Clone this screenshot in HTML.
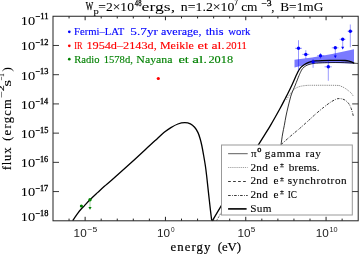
<!DOCTYPE html>
<html><head><meta charset="utf-8"><style>
html,body{margin:0;padding:0;background:#fff;}
body{width:359px;height:254px;overflow:hidden;}
svg{display:block;will-change:transform;}
</style></head><body>
<svg width="359" height="254" viewBox="0 0 359 254">
<rect width="359" height="254" fill="#fff"/>
<polygon points="294.5,59.8 312,57.4 332,54.0 354,49.2 354,63.5 332,63.0 312,63.3 294.5,67.5" fill="#0000ff" fill-opacity="0.52"/>
<path d="M72.70,220.60 C73.12,219.98 74.33,218.15 75.20,216.90 C76.07,215.65 76.93,214.37 77.90,213.10 C78.87,211.83 79.90,210.55 81.00,209.30 C82.10,208.05 82.95,207.23 84.50,205.60 C86.05,203.97 88.08,201.70 90.30,199.50 C92.52,197.30 95.45,194.60 97.80,192.40 C100.15,190.20 102.07,188.37 104.40,186.30 C106.73,184.23 107.27,184.00 111.80,180.00 C116.33,176.00 125.23,168.08 131.60,162.30 C137.97,156.52 145.77,149.20 150.00,145.30 C154.23,141.40 154.68,141.02 157.00,138.90 C159.32,136.78 161.58,134.48 163.90,132.60 C166.22,130.72 168.57,129.03 170.90,127.60 C173.23,126.17 175.58,124.82 177.90,124.00 C180.22,123.18 182.72,122.72 184.80,122.70 C186.88,122.68 188.77,123.13 190.40,123.90 C192.03,124.67 193.33,125.85 194.60,127.30 C195.87,128.75 197.07,130.65 198.00,132.60 C198.93,134.55 199.57,136.85 200.20,139.00 C200.83,141.15 201.25,142.90 201.80,145.50 C202.35,148.10 202.90,151.18 203.50,154.60 C204.10,158.02 204.87,162.40 205.40,166.00 C205.93,169.60 206.18,171.72 206.70,176.20 C207.22,180.68 207.88,187.28 208.50,192.90 C209.12,198.52 209.87,205.28 210.40,209.90 C210.93,214.52 211.48,218.82 211.70,220.60" fill="none" stroke="#000" stroke-width="1.3" stroke-linejoin="round"/>
<path d="M281.00,144.80 C281.27,143.00 282.05,137.23 282.60,134.00 C283.15,130.77 283.73,128.40 284.30,125.40 C284.87,122.40 285.42,118.90 286.00,116.00 C286.58,113.10 287.17,110.67 287.80,108.00 C288.43,105.33 289.18,102.33 289.80,100.00 C290.42,97.67 290.75,96.10 291.50,94.00 C292.25,91.90 293.52,89.28 294.30,87.40 C295.08,85.52 295.42,84.67 296.20,82.70 C296.98,80.73 298.25,77.42 299.00,75.60 C299.75,73.78 300.12,72.97 300.70,71.80 C301.28,70.63 301.62,69.62 302.50,68.60 C303.38,67.58 304.75,66.43 306.00,65.70 C307.25,64.97 308.67,64.58 310.00,64.20 C311.33,63.82 312.33,63.62 314.00,63.40 C315.67,63.18 317.33,63.03 320.00,62.90 C322.67,62.77 326.67,62.67 330.00,62.60 C333.33,62.53 337.00,62.47 340.00,62.50 C343.00,62.53 345.67,62.68 348.00,62.80 C350.33,62.92 352.33,63.08 354.00,63.20 C355.67,63.32 357.33,63.45 358.00,63.50" fill="none" stroke="#000" stroke-width="0.8"/>
<path d="M286.50,99.80 C286.87,99.20 287.77,97.62 288.70,96.20 C289.63,94.78 291.15,92.50 292.10,91.30 C293.05,90.10 293.53,89.65 294.40,89.00 C295.27,88.35 296.20,87.87 297.30,87.40 C298.40,86.93 299.55,86.52 301.00,86.20 C302.45,85.88 304.17,85.65 306.00,85.50 C307.83,85.35 306.87,85.32 312.00,85.30 C317.13,85.28 331.97,85.23 336.80,85.40 C341.63,85.57 339.67,85.85 341.00,86.30 C342.33,86.75 343.42,87.25 344.80,88.10 C346.18,88.95 348.18,90.52 349.30,91.40 C350.42,92.28 350.85,92.63 351.50,93.40 C352.15,94.17 352.92,95.57 353.20,96.00" fill="none" stroke="#666" stroke-width="0.75" stroke-dasharray="1.2,0.9"/>
<path d="M281.30,144.40 C282.75,143.10 286.83,139.35 290.00,136.60 C293.17,133.85 296.97,130.80 300.30,127.90 C303.63,125.00 307.55,121.42 310.00,119.20 C312.45,116.98 312.90,116.43 315.00,114.60 C317.10,112.77 320.10,110.20 322.60,108.20 C325.10,106.20 327.77,104.10 330.00,102.60 C332.23,101.10 334.50,99.87 336.00,99.20 C337.50,98.53 338.00,98.65 339.00,98.60 C340.00,98.55 341.02,98.67 342.00,98.90 C342.98,99.13 343.98,99.45 344.90,100.00 C345.82,100.55 346.77,101.45 347.50,102.20 C348.23,102.95 348.68,103.45 349.30,104.50 C349.92,105.55 350.63,107.00 351.20,108.50 C351.77,110.00 352.32,112.08 352.70,113.50 C353.08,114.92 353.37,116.42 353.50,117.00" fill="none" stroke="#111" stroke-width="0.85" stroke-dasharray="2.6,1.3,0.8,1.3"/>
<path d="M216.60,220.60 C217.40,219.22 220.60,213.68 221.40,212.30" fill="none" stroke="#333" stroke-width="0.7" stroke-dasharray="2,1"/>
<path d="M212.30,220.80 C213.88,218.13 217.18,212.47 221.80,204.80 C226.42,197.13 233.85,184.88 240.00,174.80 C246.15,164.72 253.62,152.55 258.70,144.30 C263.78,136.05 266.90,131.35 270.50,125.30 C274.10,119.25 277.82,112.52 280.30,108.00 C282.78,103.48 284.18,100.53 285.40,98.20 C286.62,95.87 286.45,96.33 287.60,94.00 C288.75,91.67 290.80,87.43 292.30,84.20 C293.80,80.97 295.55,76.87 296.60,74.60 C297.65,72.33 297.85,71.85 298.60,70.60 C299.35,69.35 300.05,68.17 301.10,67.10 C302.15,66.03 303.63,64.98 304.90,64.20 C306.17,63.42 307.52,62.87 308.70,62.40 C309.88,61.93 310.78,61.65 312.00,61.40 C313.22,61.15 314.33,61.03 316.00,60.90 C317.67,60.77 319.67,60.68 322.00,60.60 C324.33,60.52 327.00,60.45 330.00,60.40 C333.00,60.35 337.50,60.28 340.00,60.30 C342.50,60.32 343.50,60.37 345.00,60.50 C346.50,60.63 347.83,60.83 349.00,61.10 C350.17,61.37 351.13,61.73 352.00,62.10 C352.87,62.47 353.83,63.10 354.20,63.30" fill="none" stroke="#000" stroke-width="1.3" stroke-linejoin="round"/>
<line x1="295.0" y1="48.3" x2="302.0" y2="48.3" stroke="#0000ff" stroke-opacity="0.5" stroke-width="0.8"/>
<line x1="298.5" y1="40.2" x2="298.5" y2="70.5" stroke="#0000ff" stroke-opacity="0.5" stroke-width="0.8"/>
<circle cx="298.5" cy="48.3" r="1.7" fill="#0000ff"/>
<line x1="302.3" y1="54.4" x2="309.3" y2="54.4" stroke="#0000ff" stroke-opacity="0.5" stroke-width="0.8"/>
<line x1="305.8" y1="50.2" x2="305.8" y2="58.8" stroke="#0000ff" stroke-opacity="0.5" stroke-width="0.8"/>
<circle cx="305.8" cy="54.4" r="1.7" fill="#0000ff"/>
<line x1="309.5" y1="61.9" x2="316.9" y2="61.9" stroke="#0000ff" stroke-opacity="0.5" stroke-width="0.8"/>
<line x1="313.1" y1="59.0" x2="313.1" y2="67.8" stroke="#0000ff" stroke-opacity="0.5" stroke-width="0.8"/>
<circle cx="313.1" cy="61.9" r="1.7" fill="#0000ff"/>
<line x1="317.0" y1="55.8" x2="324.3" y2="55.8" stroke="#0000ff" stroke-opacity="0.5" stroke-width="0.8"/>
<line x1="320.5" y1="53.0" x2="320.5" y2="58.6" stroke="#0000ff" stroke-opacity="0.5" stroke-width="0.8"/>
<circle cx="320.5" cy="55.8" r="1.7" fill="#0000ff"/>
<line x1="324.5" y1="66.8" x2="331.8" y2="66.8" stroke="#0000ff" stroke-opacity="0.5" stroke-width="0.8"/>
<line x1="328.3" y1="60.5" x2="328.3" y2="80.8" stroke="#0000ff" stroke-opacity="0.5" stroke-width="0.8"/>
<circle cx="328.3" cy="66.8" r="1.7" fill="#0000ff"/>
<line x1="331.8" y1="47.8" x2="338.5" y2="47.8" stroke="#0000ff" stroke-opacity="0.5" stroke-width="0.8"/>
<line x1="335.3" y1="47.8" x2="335.3" y2="56.3" stroke="#0000ff" stroke-opacity="0.5" stroke-width="0.8"/>
<polygon points="333.8,55.5 336.8,55.5 335.3,58.3" fill="#0000ff"/>
<circle cx="335.3" cy="47.8" r="1.7" fill="#0000ff"/>
<line x1="339.5" y1="39.3" x2="345.5" y2="39.3" stroke="#0000ff" stroke-opacity="0.5" stroke-width="0.8"/>
<line x1="342.7" y1="39.3" x2="342.7" y2="47.5" stroke="#0000ff" stroke-opacity="0.5" stroke-width="0.8"/>
<polygon points="341.2,46.7 344.2,46.7 342.7,49.5" fill="#0000ff"/>
<circle cx="342.7" cy="39.3" r="1.7" fill="#0000ff"/>
<line x1="347.6" y1="31.2" x2="352.9" y2="31.2" stroke="#0000ff" stroke-opacity="0.5" stroke-width="0.8"/>
<line x1="350.3" y1="24.5" x2="350.3" y2="47.3" stroke="#0000ff" stroke-opacity="0.5" stroke-width="0.8"/>
<circle cx="350.3" cy="31.2" r="1.7" fill="#0000ff"/>
<circle cx="158.3" cy="78.5" r="1.6" fill="#ff0000"/>
<circle cx="81.4" cy="206.0" r="1.6" fill="#008000"/>
<line x1="90.0" y1="199.8" x2="90.0" y2="207.5" stroke="#7fbf7f" stroke-width="0.7"/>
<polygon points="88.4,207.0 91.6,207.0 90.0,209.8" fill="#008000"/>
<circle cx="90.0" cy="199.8" r="1.7" fill="#008000"/>
<rect x="221.5" y="145.0" width="130.8" height="70.0" fill="#fff" stroke="#999" stroke-width="1"/>
<line x1="228.1" y1="153.7" x2="247.7" y2="153.7" stroke="#333" stroke-width="0.8"/>
<line x1="228.1" y1="167.5" x2="247.7" y2="167.5" stroke="#888" stroke-width="0.8" stroke-dasharray="1.2,0.9"/>
<line x1="228.1" y1="181.5" x2="246.0" y2="181.5" stroke="#222" stroke-width="0.9" stroke-dasharray="2.7,2.3"/>
<line x1="228.1" y1="195.5" x2="247.7" y2="195.5" stroke="#222" stroke-width="0.9" stroke-dasharray="2.6,1.3,0.8,1.3"/>
<line x1="228.1" y1="208.9" x2="246.6" y2="208.9" stroke="#000" stroke-width="1.6"/>
<text x="250.95" y="156.80" font-family="Liberation Serif" font-weight="normal" font-size="10" textLength="5.62" lengthAdjust="spacingAndGlyphs" fill="#000" stroke="#000" stroke-width="0.1" >π</text>
<text x="257.39" y="152.20" font-family="Liberation Serif" font-weight="normal" font-size="6.8" textLength="4.13" lengthAdjust="spacingAndGlyphs" fill="#000" stroke="#000" stroke-width="0.3" >0</text>
<text x="-0.43" y="0.00" font-family="Liberation Serif" font-weight="normal" font-size="10" textLength="31.91" lengthAdjust="spacing" fill="#000" stroke="#000" stroke-width="0.1"  transform="translate(265.20,156.60) scale(1.1200,1)">gamma</text>
<text x="-0.20" y="0.00" font-family="Liberation Serif" font-weight="normal" font-size="10" textLength="13.81" lengthAdjust="spacing" fill="#000" stroke="#000" stroke-width="0.1"  transform="translate(305.70,156.60) scale(1.1200,1)">ray</text>
<text x="-0.44" y="0.00" font-family="Liberation Serif" font-weight="normal" font-size="10" textLength="15.29" lengthAdjust="spacing" fill="#000" stroke="#000" stroke-width="0.1"  transform="translate(251.10,170.60) scale(1.1200,1)">2nd</text>
<text x="-0.39" y="0.00" font-family="Liberation Serif" font-weight="normal" font-size="10" textLength="5.02" lengthAdjust="spacing" fill="#000" stroke="#000" stroke-width="0.1"  transform="translate(273.90,170.60) scale(1.1200,1)">e</text>
<text x="280.01" y="167.00" font-family="Liberation Serif" font-weight="normal" font-size="6.0" textLength="3.89" lengthAdjust="spacingAndGlyphs" fill="#000" stroke="#000" stroke-width="0.25" >±</text>
<text x="-0.00" y="0.00" font-family="Liberation Serif" font-weight="normal" font-size="10" textLength="27.53" lengthAdjust="spacing" fill="#000" stroke="#000" stroke-width="0.1"  transform="translate(288.80,170.60) scale(1.1200,1)">brems.</text>
<text x="-0.44" y="0.00" font-family="Liberation Serif" font-weight="normal" font-size="10" textLength="15.29" lengthAdjust="spacing" fill="#000" stroke="#000" stroke-width="0.1"  transform="translate(251.10,184.30) scale(1.1200,1)">2nd</text>
<text x="-0.39" y="0.00" font-family="Liberation Serif" font-weight="normal" font-size="10" textLength="5.02" lengthAdjust="spacing" fill="#000" stroke="#000" stroke-width="0.1"  transform="translate(273.90,184.30) scale(1.1200,1)">e</text>
<text x="280.01" y="180.70" font-family="Liberation Serif" font-weight="normal" font-size="6.0" textLength="3.89" lengthAdjust="spacingAndGlyphs" fill="#000" stroke="#000" stroke-width="0.25" >±</text>
<text x="-0.41" y="0.00" font-family="Liberation Serif" font-weight="normal" font-size="10" textLength="52.70" lengthAdjust="spacing" fill="#000" stroke="#000" stroke-width="0.1"  transform="translate(288.10,184.30) scale(1.1200,1)">synchrotron</text>
<text x="-0.44" y="0.00" font-family="Liberation Serif" font-weight="normal" font-size="10" textLength="15.29" lengthAdjust="spacing" fill="#000" stroke="#000" stroke-width="0.1"  transform="translate(251.10,198.00) scale(1.1200,1)">2nd</text>
<text x="-0.39" y="0.00" font-family="Liberation Serif" font-weight="normal" font-size="10" textLength="5.02" lengthAdjust="spacing" fill="#000" stroke="#000" stroke-width="0.1"  transform="translate(273.90,198.00) scale(1.1200,1)">e</text>
<text x="280.01" y="194.40" font-family="Liberation Serif" font-weight="normal" font-size="6.0" textLength="3.89" lengthAdjust="spacingAndGlyphs" fill="#000" stroke="#000" stroke-width="0.25" >±</text>
<text x="-0.36" y="0.00" font-family="Liberation Serif" font-weight="normal" font-size="10" textLength="10.00" lengthAdjust="spacing" fill="#000" stroke="#000" stroke-width="0.1"  transform="translate(288.10,198.00) scale(0.9244,1)">IC</text>
<text x="-0.67" y="0.00" font-family="Liberation Serif" font-weight="normal" font-size="10" textLength="19.04" lengthAdjust="spacing" fill="#000" stroke="#000" stroke-width="0.1"  transform="translate(251.00,212.30) scale(1.1200,1)">Sum</text>
<circle cx="69.3" cy="31.8" r="1.35" fill="#0000ff"/>
<text x="74.10" y="34.60" font-family="Liberation Serif" font-weight="normal" font-size="10.2" textLength="50.27" lengthAdjust="spacingAndGlyphs" fill="#0000ff" stroke="#0000ff" stroke-width="0.12" >Fermi–LAT</text>
<text x="130.33" y="34.60" font-family="Liberation Serif" font-weight="normal" font-size="10.2" textLength="27.69" lengthAdjust="spacingAndGlyphs" fill="#0000ff" stroke="#0000ff" stroke-width="0.12" >5.7yr</text>
<text x="160.98" y="34.60" font-family="Liberation Serif" font-weight="normal" font-size="10.2" textLength="40.48" lengthAdjust="spacingAndGlyphs" fill="#0000ff" stroke="#0000ff" stroke-width="0.12" >average,</text>
<text x="205.68" y="34.60" font-family="Liberation Serif" font-weight="normal" font-size="10.2" textLength="17.76" lengthAdjust="spacingAndGlyphs" fill="#0000ff" stroke="#0000ff" stroke-width="0.12" >this</text>
<text x="228.29" y="34.60" font-family="Liberation Serif" font-weight="normal" font-size="10.2" textLength="22.21" lengthAdjust="spacingAndGlyphs" fill="#0000ff" stroke="#0000ff" stroke-width="0.12" >work</text>
<circle cx="69.3" cy="45.8" r="1.35" fill="#ff0000"/>
<text x="74.20" y="49.00" font-family="Liberation Serif" font-weight="normal" font-size="10.2" textLength="8.31" lengthAdjust="spacingAndGlyphs" fill="#ff0000" stroke="#ff0000" stroke-width="0.12" >IR</text>
<text x="86.42" y="49.00" font-family="Liberation Serif" font-weight="normal" font-size="10.2" textLength="70.35" lengthAdjust="spacingAndGlyphs" fill="#ff0000" stroke="#ff0000" stroke-width="0.12" >1954d–2143d,</text>
<text x="159.96" y="49.00" font-family="Liberation Serif" font-weight="normal" font-size="10.2" textLength="33.86" lengthAdjust="spacingAndGlyphs" fill="#ff0000" stroke="#ff0000" stroke-width="0.12" >Meikle</text>
<text x="197.53" y="49.00" font-family="Liberation Serif" font-weight="normal" font-size="10.2" textLength="10.45" lengthAdjust="spacingAndGlyphs" fill="#ff0000" stroke="#ff0000" stroke-width="0.12" >et</text>
<text x="211.42" y="49.00" font-family="Liberation Serif" font-weight="normal" font-size="10.2" textLength="13.28" lengthAdjust="spacingAndGlyphs" fill="#ff0000" stroke="#ff0000" stroke-width="0.12" >al.</text>
<text x="225.94" y="49.00" font-family="Liberation Serif" font-weight="normal" font-size="10.2" textLength="20.99" lengthAdjust="spacingAndGlyphs" fill="#ff0000" stroke="#ff0000" stroke-width="0.12" >2011</text>
<circle cx="69.3" cy="59.2" r="1.35" fill="#008000"/>
<text x="74.19" y="62.50" font-family="Liberation Serif" font-weight="normal" font-size="10.2" textLength="25.31" lengthAdjust="spacingAndGlyphs" fill="#008000" stroke="#008000" stroke-width="0.12" >Radio</text>
<text x="103.67" y="62.50" font-family="Liberation Serif" font-weight="normal" font-size="10.2" textLength="29.20" lengthAdjust="spacingAndGlyphs" fill="#008000" stroke="#008000" stroke-width="0.12" >1578d,</text>
<text x="136.36" y="62.50" font-family="Liberation Serif" font-weight="normal" font-size="10.2" textLength="36.10" lengthAdjust="spacingAndGlyphs" fill="#008000" stroke="#008000" stroke-width="0.12" >Nayana</text>
<text x="178.43" y="62.50" font-family="Liberation Serif" font-weight="normal" font-size="10.2" textLength="10.45" lengthAdjust="spacingAndGlyphs" fill="#008000" stroke="#008000" stroke-width="0.12" >et</text>
<text x="192.27" y="62.50" font-family="Liberation Serif" font-weight="normal" font-size="10.2" textLength="14.73" lengthAdjust="spacingAndGlyphs" fill="#008000" stroke="#008000" stroke-width="0.12" >al.</text>
<text x="208.46" y="62.50" font-family="Liberation Serif" font-weight="normal" font-size="10.2" textLength="24.61" lengthAdjust="spacingAndGlyphs" fill="#008000" stroke="#008000" stroke-width="0.12" >2018</text>
<rect x="53.0" y="16.25" width="305.2" height="204.55" fill="none" stroke="#222" stroke-width="1.0"/>
<line x1="69.06" y1="220.8" x2="69.06" y2="218.60000000000002" stroke="#222" stroke-width="1"/>
<line x1="69.06" y1="16.25" x2="69.06" y2="18.45" stroke="#222" stroke-width="1"/>
<line x1="85.13" y1="220.8" x2="85.13" y2="216.8" stroke="#222" stroke-width="1"/>
<line x1="85.13" y1="16.25" x2="85.13" y2="20.25" stroke="#222" stroke-width="1"/>
<line x1="101.19" y1="220.8" x2="101.19" y2="218.60000000000002" stroke="#222" stroke-width="1"/>
<line x1="101.19" y1="16.25" x2="101.19" y2="18.45" stroke="#222" stroke-width="1"/>
<line x1="117.25" y1="220.8" x2="117.25" y2="218.60000000000002" stroke="#222" stroke-width="1"/>
<line x1="117.25" y1="16.25" x2="117.25" y2="18.45" stroke="#222" stroke-width="1"/>
<line x1="133.31" y1="220.8" x2="133.31" y2="218.60000000000002" stroke="#222" stroke-width="1"/>
<line x1="133.31" y1="16.25" x2="133.31" y2="18.45" stroke="#222" stroke-width="1"/>
<line x1="149.38" y1="220.8" x2="149.38" y2="218.60000000000002" stroke="#222" stroke-width="1"/>
<line x1="149.38" y1="16.25" x2="149.38" y2="18.45" stroke="#222" stroke-width="1"/>
<line x1="165.44" y1="220.8" x2="165.44" y2="216.8" stroke="#222" stroke-width="1"/>
<line x1="165.44" y1="16.25" x2="165.44" y2="20.25" stroke="#222" stroke-width="1"/>
<line x1="181.50" y1="220.8" x2="181.50" y2="218.60000000000002" stroke="#222" stroke-width="1"/>
<line x1="181.50" y1="16.25" x2="181.50" y2="18.45" stroke="#222" stroke-width="1"/>
<line x1="197.57" y1="220.8" x2="197.57" y2="218.60000000000002" stroke="#222" stroke-width="1"/>
<line x1="197.57" y1="16.25" x2="197.57" y2="18.45" stroke="#222" stroke-width="1"/>
<line x1="213.63" y1="220.8" x2="213.63" y2="218.60000000000002" stroke="#222" stroke-width="1"/>
<line x1="213.63" y1="16.25" x2="213.63" y2="18.45" stroke="#222" stroke-width="1"/>
<line x1="229.69" y1="220.8" x2="229.69" y2="218.60000000000002" stroke="#222" stroke-width="1"/>
<line x1="229.69" y1="16.25" x2="229.69" y2="18.45" stroke="#222" stroke-width="1"/>
<line x1="245.76" y1="220.8" x2="245.76" y2="216.8" stroke="#222" stroke-width="1"/>
<line x1="245.76" y1="16.25" x2="245.76" y2="20.25" stroke="#222" stroke-width="1"/>
<line x1="261.82" y1="220.8" x2="261.82" y2="218.60000000000002" stroke="#222" stroke-width="1"/>
<line x1="261.82" y1="16.25" x2="261.82" y2="18.45" stroke="#222" stroke-width="1"/>
<line x1="277.88" y1="220.8" x2="277.88" y2="218.60000000000002" stroke="#222" stroke-width="1"/>
<line x1="277.88" y1="16.25" x2="277.88" y2="18.45" stroke="#222" stroke-width="1"/>
<line x1="293.94" y1="220.8" x2="293.94" y2="218.60000000000002" stroke="#222" stroke-width="1"/>
<line x1="293.94" y1="16.25" x2="293.94" y2="18.45" stroke="#222" stroke-width="1"/>
<line x1="310.01" y1="220.8" x2="310.01" y2="218.60000000000002" stroke="#222" stroke-width="1"/>
<line x1="310.01" y1="16.25" x2="310.01" y2="18.45" stroke="#222" stroke-width="1"/>
<line x1="326.07" y1="220.8" x2="326.07" y2="216.8" stroke="#222" stroke-width="1"/>
<line x1="326.07" y1="16.25" x2="326.07" y2="20.25" stroke="#222" stroke-width="1"/>
<line x1="342.13" y1="220.8" x2="342.13" y2="218.60000000000002" stroke="#222" stroke-width="1"/>
<line x1="342.13" y1="16.25" x2="342.13" y2="18.45" stroke="#222" stroke-width="1"/>
<line x1="53.0" y1="191.57" x2="59.0" y2="191.57" stroke="#222" stroke-width="0.9"/>
<line x1="358.2" y1="191.57" x2="352.2" y2="191.57" stroke="#222" stroke-width="0.9"/>
<line x1="53.0" y1="162.35" x2="59.0" y2="162.35" stroke="#222" stroke-width="0.9"/>
<line x1="358.2" y1="162.35" x2="352.2" y2="162.35" stroke="#222" stroke-width="0.9"/>
<line x1="53.0" y1="133.13" x2="59.0" y2="133.13" stroke="#222" stroke-width="0.9"/>
<line x1="358.2" y1="133.13" x2="352.2" y2="133.13" stroke="#222" stroke-width="0.9"/>
<line x1="53.0" y1="103.91" x2="59.0" y2="103.91" stroke="#222" stroke-width="0.9"/>
<line x1="358.2" y1="103.91" x2="352.2" y2="103.91" stroke="#222" stroke-width="0.9"/>
<line x1="53.0" y1="74.69" x2="59.0" y2="74.69" stroke="#222" stroke-width="0.9"/>
<line x1="358.2" y1="74.69" x2="352.2" y2="74.69" stroke="#222" stroke-width="0.9"/>
<line x1="53.0" y1="45.47" x2="59.0" y2="45.47" stroke="#222" stroke-width="0.9"/>
<line x1="358.2" y1="45.47" x2="352.2" y2="45.47" stroke="#222" stroke-width="0.9"/>
<text x="20.73" y="24.80" font-family="Liberation Serif" font-weight="normal" font-size="12.5" textLength="14.42" lengthAdjust="spacingAndGlyphs" fill="#000" stroke="#000" stroke-width="0.05" >10</text>
<text x="35.28" y="19.40" font-family="Liberation Serif" font-weight="normal" font-size="7.4" textLength="13.23" lengthAdjust="spacingAndGlyphs" fill="#000" stroke="#000" stroke-width="0.3" >−11</text>
<text x="20.73" y="50.20" font-family="Liberation Serif" font-weight="normal" font-size="12.5" textLength="14.42" lengthAdjust="spacingAndGlyphs" fill="#000" stroke="#000" stroke-width="0.05" >10</text>
<text x="35.28" y="44.80" font-family="Liberation Serif" font-weight="normal" font-size="7.4" textLength="13.19" lengthAdjust="spacingAndGlyphs" fill="#000" stroke="#000" stroke-width="0.3" >−12</text>
<text x="20.73" y="79.80" font-family="Liberation Serif" font-weight="normal" font-size="12.5" textLength="14.42" lengthAdjust="spacingAndGlyphs" fill="#000" stroke="#000" stroke-width="0.05" >10</text>
<text x="35.28" y="74.40" font-family="Liberation Serif" font-weight="normal" font-size="7.4" textLength="13.04" lengthAdjust="spacingAndGlyphs" fill="#000" stroke="#000" stroke-width="0.3" >−13</text>
<text x="20.73" y="108.90" font-family="Liberation Serif" font-weight="normal" font-size="12.5" textLength="14.42" lengthAdjust="spacingAndGlyphs" fill="#000" stroke="#000" stroke-width="0.05" >10</text>
<text x="35.29" y="103.50" font-family="Liberation Serif" font-weight="normal" font-size="7.4" textLength="12.84" lengthAdjust="spacingAndGlyphs" fill="#000" stroke="#000" stroke-width="0.3" >−14</text>
<text x="20.73" y="137.90" font-family="Liberation Serif" font-weight="normal" font-size="12.5" textLength="14.42" lengthAdjust="spacingAndGlyphs" fill="#000" stroke="#000" stroke-width="0.05" >10</text>
<text x="35.28" y="132.50" font-family="Liberation Serif" font-weight="normal" font-size="7.4" textLength="13.04" lengthAdjust="spacingAndGlyphs" fill="#000" stroke="#000" stroke-width="0.3" >−15</text>
<text x="20.73" y="167.10" font-family="Liberation Serif" font-weight="normal" font-size="12.5" textLength="14.42" lengthAdjust="spacingAndGlyphs" fill="#000" stroke="#000" stroke-width="0.05" >10</text>
<text x="35.29" y="161.70" font-family="Liberation Serif" font-weight="normal" font-size="7.4" textLength="12.96" lengthAdjust="spacingAndGlyphs" fill="#000" stroke="#000" stroke-width="0.3" >−16</text>
<text x="20.73" y="196.00" font-family="Liberation Serif" font-weight="normal" font-size="12.5" textLength="14.42" lengthAdjust="spacingAndGlyphs" fill="#000" stroke="#000" stroke-width="0.05" >10</text>
<text x="35.29" y="190.60" font-family="Liberation Serif" font-weight="normal" font-size="7.4" textLength="12.95" lengthAdjust="spacingAndGlyphs" fill="#000" stroke="#000" stroke-width="0.3" >−17</text>
<text x="20.73" y="221.20" font-family="Liberation Serif" font-weight="normal" font-size="12.5" textLength="14.42" lengthAdjust="spacingAndGlyphs" fill="#000" stroke="#000" stroke-width="0.05" >10</text>
<text x="35.28" y="215.80" font-family="Liberation Serif" font-weight="normal" font-size="7.4" textLength="13.03" lengthAdjust="spacingAndGlyphs" fill="#000" stroke="#000" stroke-width="0.3" >−18</text>
<text x="73.61" y="236.80" font-family="Liberation Sans" font-weight="normal" font-size="11.7" textLength="13.05" lengthAdjust="spacingAndGlyphs" fill="#222"  >10</text>
<text x="87.38" y="231.80" font-family="Liberation Sans" font-weight="normal" font-size="7.7" textLength="9.78" lengthAdjust="spacingAndGlyphs" fill="#222"  >−5</text>
<text x="156.91" y="236.80" font-family="Liberation Sans" font-weight="normal" font-size="11.7" textLength="13.05" lengthAdjust="spacingAndGlyphs" fill="#222"  >10</text>
<text x="170.95" y="231.80" font-family="Liberation Sans" font-weight="normal" font-size="7.7" textLength="3.61" lengthAdjust="spacingAndGlyphs" fill="#222"  >0</text>
<text x="237.51" y="236.80" font-family="Liberation Sans" font-weight="normal" font-size="11.7" textLength="13.05" lengthAdjust="spacingAndGlyphs" fill="#222"  >10</text>
<text x="250.87" y="231.80" font-family="Liberation Sans" font-weight="normal" font-size="7.7" textLength="4.57" lengthAdjust="spacingAndGlyphs" fill="#222"  >5</text>
<text x="315.81" y="236.80" font-family="Liberation Sans" font-weight="normal" font-size="11.7" textLength="13.05" lengthAdjust="spacingAndGlyphs" fill="#222"  >10</text>
<text x="329.44" y="231.80" font-family="Liberation Sans" font-weight="normal" font-size="7.7" textLength="8.14" lengthAdjust="spacingAndGlyphs" fill="#222"  >10</text>
<text x="170.60" y="251.00" font-family="Liberation Serif" font-weight="normal" font-size="12.8" textLength="39.85" lengthAdjust="spacing" fill="#000" stroke="#000" stroke-width="0.2" >energy</text>
<text x="217.84" y="251.00" font-family="Liberation Serif" font-weight="normal" font-size="12.8" textLength="23.12" lengthAdjust="spacing" fill="#000" stroke="#000" stroke-width="0.2" >(eV)</text>
<text transform="translate(10.9,169.8) rotate(-90)" x="-0.39" y="0" font-family="Liberation Serif" font-size="12.6" textLength="22.64" lengthAdjust="spacing" fill="#000" stroke="#000" stroke-width="0.12">flux</text>
<text transform="translate(10.9,140.3) rotate(-90)" x="-0.55" y="0" font-family="Liberation Serif" font-size="12.6" textLength="41.75" lengthAdjust="spacing" fill="#000" stroke="#000" stroke-width="0.12">(ergcm</text>
<text transform="translate(4.3,97.5) rotate(-90)" x="-0.60" y="0" font-family="Liberation Serif" font-size="7.5" textLength="12.76" lengthAdjust="spacingAndGlyphs" fill="#000" stroke="#000" stroke-width="0.1">−2</text>
<text transform="translate(10.9,86.0) rotate(-90)" x="-0.72" y="0" font-family="Liberation Serif" font-size="12.6" textLength="6.86" lengthAdjust="spacingAndGlyphs" fill="#000" stroke="#000" stroke-width="0.1">s</text>
<text transform="translate(4.3,80.2) rotate(-90)" x="-0.34" y="0" font-family="Liberation Serif" font-size="7.5" textLength="7.36" lengthAdjust="spacingAndGlyphs" fill="#000" stroke="#000" stroke-width="0.1">−1</text>
<text transform="translate(10.9,71.4) rotate(-90)" x="-0.45" y="0" font-family="Liberation Serif" font-size="12.6" textLength="4.67" lengthAdjust="spacingAndGlyphs" fill="#000" stroke="#000" stroke-width="0.05">)</text>
<text x="85.69" y="10.40" font-family="Liberation Serif" font-weight="normal" font-size="11.5" textLength="7.42" lengthAdjust="spacingAndGlyphs" fill="#000" stroke="#000" stroke-width="0.25" >W</text>
<text x="93.63" y="13.70" font-family="Liberation Serif" font-weight="normal" font-size="8.5" textLength="5.28" lengthAdjust="spacingAndGlyphs" fill="#000" stroke="#000" stroke-width="0.06" >p</text>
<text x="98.33" y="10.90" font-family="Liberation Serif" font-weight="normal" font-size="12" textLength="35.59" lengthAdjust="spacingAndGlyphs" fill="#000" stroke="#000" stroke-width="0.06" >=2×10</text>
<text x="134.87" y="5.50" font-family="Liberation Serif" font-weight="normal" font-size="7.5" textLength="6.58" lengthAdjust="spacingAndGlyphs" fill="#000" stroke="#000" stroke-width="0.25" >48</text>
<text x="141.62" y="10.90" font-family="Liberation Serif" font-weight="normal" font-size="13" textLength="33.48" lengthAdjust="spacingAndGlyphs" fill="#000"  >ergs,</text>
<text x="180.88" y="10.90" font-family="Liberation Serif" font-weight="normal" font-size="12" textLength="53.54" lengthAdjust="spacingAndGlyphs" fill="#000" stroke="#000" stroke-width="0.06" >n=1.2×10</text>
<text x="234.54" y="5.00" font-family="Liberation Serif" font-weight="normal" font-size="7.5" textLength="3.45" lengthAdjust="spacingAndGlyphs" fill="#000" stroke="#000" stroke-width="0.25" >7</text>
<text x="241.19" y="10.90" font-family="Liberation Serif" font-weight="normal" font-size="12" textLength="16.32" lengthAdjust="spacingAndGlyphs" fill="#000" stroke="#000" stroke-width="0.06" >cm</text>
<text x="261.21" y="5.80" font-family="Liberation Serif" font-weight="normal" font-size="7.5" textLength="10.37" lengthAdjust="spacingAndGlyphs" fill="#000" stroke="#000" stroke-width="0.25" >−3</text>
<text x="271.21" y="10.90" font-family="Liberation Serif" font-weight="normal" font-size="12" textLength="3.19" lengthAdjust="spacingAndGlyphs" fill="#000" stroke="#000" stroke-width="0.06" >,</text>
<text x="280.22" y="10.90" font-family="Liberation Serif" font-weight="normal" font-size="12" textLength="43.10" lengthAdjust="spacingAndGlyphs" fill="#000" stroke="#000" stroke-width="0.06" >B=1mG</text>
</svg>
</body></html>
